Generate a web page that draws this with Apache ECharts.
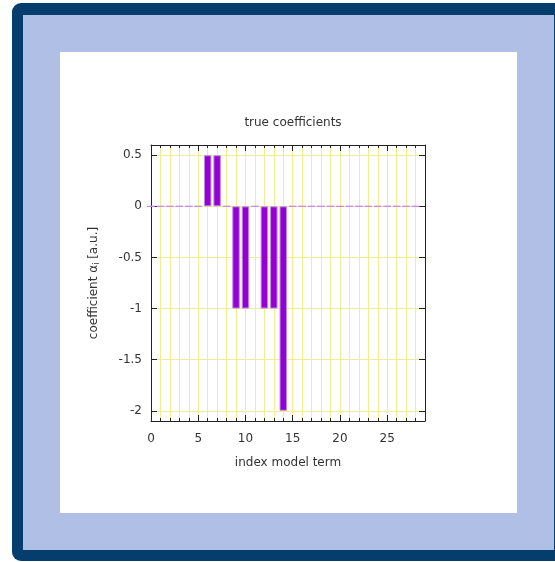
<!DOCTYPE html>
<html>
<head>
<meta charset="utf-8">
<script src="https://cdn.jsdelivr.net/npm/echarts@6/dist/echarts.min.js"></script>
<style>
html,body{margin:0;padding:0;background:#ffffff;width:555px;height:562px;overflow:hidden;position:relative;}
#outer{position:absolute;left:12px;top:3px;width:560px;height:558px;background:#053d6d;border-radius:9px;}
#inner{position:absolute;left:23px;top:15px;width:531px;height:535px;background:#afbfe6;}
#panel{position:absolute;left:60px;top:52px;width:457px;height:461px;background:#ffffff;}
#chart{position:absolute;left:0;top:0;width:555px;height:562px;}
</style>
</head>
<body>
<div id="outer"></div>
<div id="inner"></div>
<div id="panel"></div>
<div id="chart"></div>
<script>
// index of model term
var termIndex = [0,1,2,3,4,5,6,7,8,9,10,11,12,13,14,15,16,17,18,19,20,21,22,23,24,25,26,27,28];
// true coefficient values
var coefValues = [0,0,0,0,0,0,0.5,0.5,0,-1,-1,0,-1,-1,-2,0,0,0,0,0,0,0,0,0,0,0,0,0,0];
// tick values
var xMajorTicks = [0,5,10,15,20,25];
var xMinorTicks = [1,2,3,4,5,6,7,8,9,10,11,12,13,14,15,16,17,18,19,20,21,22,23,24,25,26,27,28];
var yTicks = [-2,-1.5,-1,-0.5,0,0.5];

var barData = termIndex.map(function(x, i){ return [x, coefValues[i]]; });

var FONT = 'DejaVu Sans';
var TXT = '#333333';
var AX = '#222222';
var GRID = '#f4ec90';

var chart = echarts.init(document.getElementById('chart'), null, {renderer:'canvas'});
chart.setOption({
  backgroundColor: 'transparent',
  animation: false,
  title: {
    text: 'true coefficients',
    left: 288, top: 112, textAlign: 'center',
    textStyle: {fontFamily: FONT, fontSize: 12, fontWeight: 'normal', color: TXT}
  },
  grid: {left: 151, top: 145, width: 274, height: 276, containLabel: false},
  xAxis: [
    {
      type: 'value', min: 0, max: 29, position: 'bottom',
      axisLine: {show: true, onZero: false, lineStyle: {color: AX, width: 1}},
      axisTick: {show: true, inside: true, length: 6, customValues: xMajorTicks, lineStyle: {color: AX}},
      axisLabel: {show: true, customValues: xMajorTicks, margin: 12, fontFamily: FONT, fontSize: 12, color: TXT},
      splitLine: {show: false},
      name: 'index model term', nameLocation: 'middle', nameGap: 36,
      nameTextStyle: {fontFamily: FONT, fontSize: 12, color: TXT}
    },
    {
      type: 'value', min: 0, max: 29, position: 'bottom',
      axisLine: {show: false, onZero: false},
      axisTick: {show: true, inside: true, length: 3, customValues: xMinorTicks, lineStyle: {color: AX}},
      axisLabel: {show: false},
      splitLine: {show: true, lineStyle: {color: GRID, width: 1}}
    },
    {
      type: 'value', min: 0, max: 29, position: 'top',
      axisLine: {show: true, onZero: false, lineStyle: {color: AX, width: 1}},
      axisTick: {show: true, inside: true, length: 6, customValues: xMajorTicks, lineStyle: {color: AX}},
      axisLabel: {show: false},
      splitLine: {show: false}
    },
    {
      type: 'value', min: 0, max: 29, position: 'top',
      axisLine: {show: false, onZero: false},
      axisTick: {show: true, inside: true, length: 3, customValues: xMinorTicks, lineStyle: {color: AX}},
      axisLabel: {show: false},
      splitLine: {show: false}
    }
  ],
  yAxis: [
    {
      type: 'value', min: -2.1, max: 0.6, position: 'left',
      axisLine: {show: true, onZero: false, lineStyle: {color: AX, width: 1}},
      axisTick: {show: true, inside: true, length: 6, customValues: yTicks, lineStyle: {color: AX}},
      axisLabel: {show: true, customValues: yTicks, margin: 9, fontFamily: FONT, fontSize: 12, color: TXT},
      splitLine: {show: true, lineStyle: {color: GRID, width: 1}},
      name: 'coefficient α{sub|i} [a.u.]', nameLocation: 'middle', nameGap: 50, nameRotate: 90,
      nameTextStyle: {
        fontFamily: FONT, fontSize: 12, color: TXT,
        rich: {sub: {fontFamily: FONT, fontSize: 8, color: TXT, padding: [7,0,0,0]}}
      }
    },
    {
      type: 'value', min: -2.1, max: 0.6, position: 'right',
      axisLine: {show: true, onZero: false, lineStyle: {color: AX, width: 1}},
      axisTick: {show: true, inside: true, length: 6, customValues: yTicks, lineStyle: {color: AX}},
      axisLabel: {show: false},
      splitLine: {show: false}
    }
  ],
  series: [{
    type: 'bar',
    xAxisIndex: 0, yAxisIndex: 0,
    data: barData,
    barWidth: 7.5,
    itemStyle: {color: '#9400d3', borderColor: '#c08ae6', borderWidth: 1},
    emphasis: {disabled: true}
  }]
});
</script>
</body>
</html>
